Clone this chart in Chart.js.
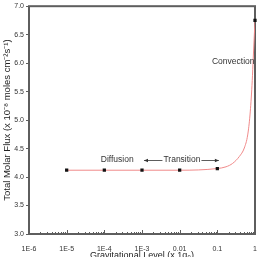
<!DOCTYPE html>
<html lang="en">
<head>
    <meta charset="UTF-8">
    <title>Total Molar Flux vs Gravitational Level</title>
    <script src="https://cdn.jsdelivr.net/npm/chart.js"></script>
    <style>
        body {
            margin: 0;
            padding: 0;
            background: #fff;
        }
        #wrap {
            width: 263px;
            height: 257px;
        }
    </style>
</head>
<body>
    <div id="wrap"><canvas id="fluxChart"></canvas></div>

    <script>
// measured points (g level, flux)
const gLevels = [1e-5, 1e-4, 1e-3, 0.01, 0.1, 1];
const fluxValues = [4.12, 4.12, 4.12, 4.12, 4.15, 6.75];

// fitted curve
const curveG = [1e-5, 1e-4, 1e-3, 0.01, 0.1, 0.17, 0.255, 0.383, 0.52, 0.64, 0.736, 0.832, 0.883, 1];
const curveFlux = [4.12, 4.12, 4.12, 4.12, 4.15, 4.18, 4.24, 4.36, 4.51, 4.74, 5.09, 5.61, 5.98, 6.75];

const xTickValues = [1e-6, 1e-5, 1e-4, 1e-3, 0.01, 0.1, 1];
const xTickLabels = ['1E-6', '1E-5', '1E-4', '1E-3', '0.01', '0.1', '1'];
const xTitle = 'Gravitational Level (x 1g\u2080)';

const font = 'Liberation Sans, Arial, sans-serif';
const frameColor = '#5e5e5e';

// frame + inward x ticks go under the data
const frame = {
    id: 'frame',
    beforeDatasetsDraw(chart) {
        const { ctx, chartArea: a, scales: { x } } = chart;
        ctx.save();
        ctx.strokeStyle = frameColor;
        ctx.lineWidth = 1;
        for (let e = -6; e <= 0; e++) {
            for (let m = 1; m <= 9; m++) {
                const v = m * Math.pow(10, e);
                if (v > 1) break;
                const px = Math.round(x.getPixelForValue(v)) + 0.5;
                const len = m === 1 ? 4 : 2;
                ctx.beginPath();
                ctx.moveTo(px, a.bottom);
                ctx.lineTo(px, a.bottom - len);
                ctx.stroke();
            }
        }
        ctx.lineWidth = 2;
        ctx.strokeRect(a.left, a.top, a.right - a.left, a.bottom - a.top);
        ctx.restore();
    }
};

// x title and the text notes
const notes = {
    id: 'notes',
    afterDraw(chart) {
        const { ctx, chartArea: a, scales: { x, y } } = chart;
        ctx.save();

        // x title, sits low and is partly cut by the canvas edge
        ctx.fillStyle = '#222';
        ctx.font = '9px ' + font;
        ctx.textAlign = 'center';
        ctx.textBaseline = 'top';
        ctx.fillText(xTitle, (a.left + a.right) / 2, a.bottom + 17);

        ctx.fillStyle = '#333';
        ctx.font = '8.5px ' + font;
        ctx.textBaseline = 'middle';
        ctx.textAlign = 'center';
        ctx.fillText('Diffusion', x.getPixelForValue(2.2e-4), y.getPixelForValue(4.30));
        ctx.fillText('Transition', x.getPixelForValue(0.0115), y.getPixelForValue(4.30));
        ctx.textAlign = 'right';
        ctx.fillText('Convection', x.getPixelForValue(0.97), y.getPixelForValue(6.02));

        // transition arrows
        const ay = Math.round(y.getPixelForValue(4.30)) + 0.5;
        const ax1 = x.getPixelForValue(1.13e-3);
        const ax2 = x.getPixelForValue(0.11);
        const tw = ctx.measureText('Transition').width;
        const tc = x.getPixelForValue(0.0115);
        ctx.strokeStyle = '#333';
        ctx.lineWidth = 0.8;
        ctx.beginPath();
        ctx.moveTo(ax1, ay);
        ctx.lineTo(tc - tw / 2 - 1, ay);
        ctx.moveTo(tc + tw / 2 + 1, ay);
        ctx.lineTo(ax2, ay);
        ctx.stroke();
        ctx.beginPath();
        ctx.moveTo(ax1, ay);
        ctx.lineTo(ax1 + 4, ay - 1.8);
        ctx.lineTo(ax1 + 4, ay + 1.8);
        ctx.closePath();
        ctx.fill();
        ctx.beginPath();
        ctx.moveTo(ax2, ay);
        ctx.lineTo(ax2 - 4, ay - 1.8);
        ctx.lineTo(ax2 - 4, ay + 1.8);
        ctx.closePath();
        ctx.fill();

        ctx.restore();
    }
};

new Chart(document.getElementById('fluxChart'), {
    type: 'scatter',
    data: {
        datasets: [
            {
                label: 'fit',
                data: curveG.map((g, i) => ({ x: g, y: curveFlux[i] })),
                showLine: true,
                borderColor: '#f08a8a',
                borderWidth: 1,
                pointRadius: 0,
                cubicInterpolationMode: 'monotone',
                order: 2
            },
            {
                label: 'measured',
                data: gLevels.map((g, i) => ({ x: g, y: fluxValues[i] })),
                showLine: false,
                pointStyle: 'rect',
                pointRadius: 2.3,
                backgroundColor: '#111',
                borderColor: '#111',
                borderWidth: 0,
                clip: 4,
                order: 1
            }
        ]
    },
    options: {
        responsive: true,
        maintainAspectRatio: false,
        animation: false,
        layout: { padding: { top: 6, right: 8, left: 2, bottom: 0 } },
        plugins: {
            legend: { display: false },
            tooltip: { enabled: false }
        },
        scales: {
            x: {
                type: 'logarithmic',
                min: 1e-6,
                max: 1,
                afterBuildTicks: (scale) => {
                    scale.ticks = xTickValues.map(v => ({ value: v }));
                },
                afterFit: (scale) => { scale.height = 23; },
                grid: { display: false },
                border: { display: false },
                ticks: {
                    autoSkip: false,
                    maxRotation: 0,
                    padding: 3,
                    color: '#333',
                    font: { family: font, size: 7 },
                    callback: (v, i) => xTickLabels[i]
                }
            },
            y: {
                min: 3,
                max: 7,
                afterFit: (scale) => { scale.width = 27; },
                grid: {
                    drawOnChartArea: false,
                    drawTicks: true,
                    tickLength: 3,
                    color: frameColor
                },
                border: { display: false },
                ticks: {
                    stepSize: 0.5,
                    padding: 2,
                    color: '#333',
                    font: { family: font, size: 7 },
                    callback: (v) => v.toFixed(1)
                },
                title: {
                    display: true,
                    text: 'Total Molar Flux (x 10\u207B\u2078 moles cm\u207B\u00B2s\u207B\u00B9)',
                    color: '#222',
                    font: { family: font, size: 9.5 },
                    padding: { top: 0, bottom: 0 }
                }
            }
        }
    },
    plugins: [frame, notes]
});
    </script>
</body>
</html>
